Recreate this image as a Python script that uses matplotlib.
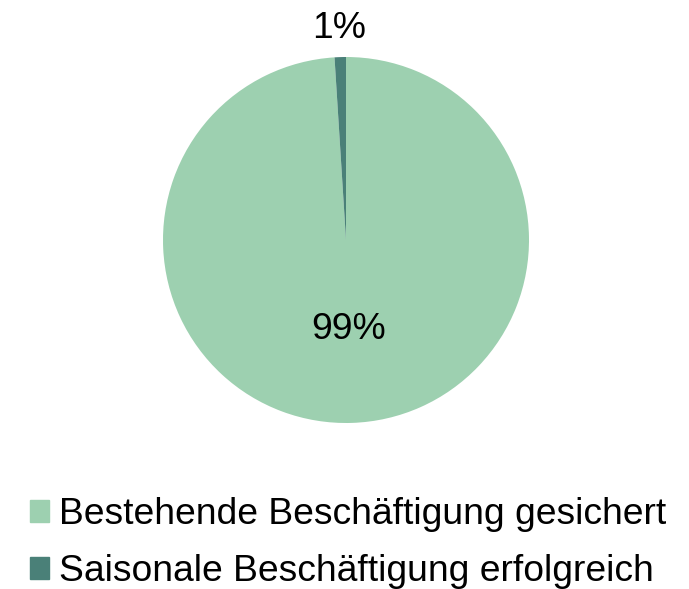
import matplotlib
matplotlib.use('Agg')
import matplotlib.pyplot as plt
import matplotlib.patches as mpatches
import numpy as np

plt.rcParams['font.family'] = ['Liberation Sans', 'DejaVu Sans']

categories = ['Bestehende Beschäftigung gesichert',
              'Saisonale Beschäftigung erfolgreich']
shares = [99, 1]
colors = ['#9dd0b0', '#4a8078']

fig = plt.figure(figsize=(6.89, 5.89), dpi=100)
ax = fig.add_axes([(346 - 183) / 689, (589 - 240 - 183) / 589,
                   366 / 689, 366 / 589])

wedges, texts = ax.pie(shares, colors=colors, startangle=90,
                       counterclock=False, radius=1,
                       wedgeprops=dict(linewidth=0))
ax.set_xlim(-1, 1)
ax.set_ylim(-1, 1)
ax.set_aspect('equal')

# percentage labels: big slice inside, small slice outside
for w, val in zip(wedges, shares):
    mid = np.deg2rad((w.theta1 + w.theta2) / 2)
    dist = 0.49 if val > 50 else 1.155
    ax.text(dist * np.cos(mid), dist * np.sin(mid), '{}%'.format(val),
            ha='center', va='center', fontsize=26.8)

handles = [mpatches.Patch(color=c, label=l) for c, l in zip(colors, categories)]
fig.legend(handles=handles, loc='upper left', bbox_to_anchor=(30 / 689, 1 - 497 / 589),
           frameon=False, fontsize=26.8, handlelength=0.52, handleheight=0.52,
           handletextpad=0.27, labelspacing=0.6, borderaxespad=0, borderpad=0)

fig.savefig('out.png', dpi=100)
